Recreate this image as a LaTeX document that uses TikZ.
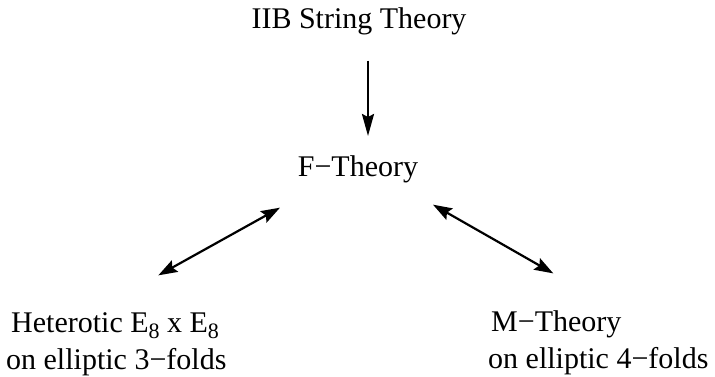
\documentclass[tikz,border=0pt]{standalone}
\usepackage{fontspec}
\setmainfont{Liberation Serif}
\usetikzlibrary{arrows.meta,positioning}
\newcommand{\sub}[1]{\raisebox{-6pt}{\fontsize{22}{22}\selectfont #1}}

\begin{document}
\begin{tikzpicture}[
      x=1pt,y=-1pt,
      label/.style={inner sep=0pt,font=\fontsize{30}{37}\selectfont},
      arrow/.style={-{Stealth[length=22pt,width=12pt,inset=3pt]},line width=2.2pt},
      duality/.style={{Stealth[length=19pt,width=13pt,inset=3pt]}-{Stealth[length=19pt,width=13pt,inset=3pt]},line width=2.2pt}
    ]
      \useasboundingbox (0,0) rectangle (715,377);
      \node[label,anchor=base] (iib) at (359,29) {IIB String Theory};
      \node[label,anchor=base] (ftheory) at (358,177) {F−Theory};
      \node[label,anchor=south west,align=left] (het) at (6,376)
        {\hspace*{5pt}Heterotic E\sub{8} x E\sub{8}\\on elliptic 3−folds};
      \node[label,anchor=south west,align=left] (mtheory) at (488,375)
        {\hspace*{3pt}M−Theory\\on elliptic 4−folds};
      \draw[arrow] ([xshift=9pt,yshift=-25pt]iib.south) -- ([xshift=10pt,yshift=20pt]ftheory.north);
      \draw[duality] ([xshift=42pt,yshift=37pt]het.north) -- ([xshift=-78pt,yshift=-24pt]ftheory.south);
      \draw[duality] ([xshift=75pt,yshift=-21pt]ftheory.south) -- ([xshift=-45pt,yshift=37pt]mtheory.north);
    \end{tikzpicture}
\end{document}
